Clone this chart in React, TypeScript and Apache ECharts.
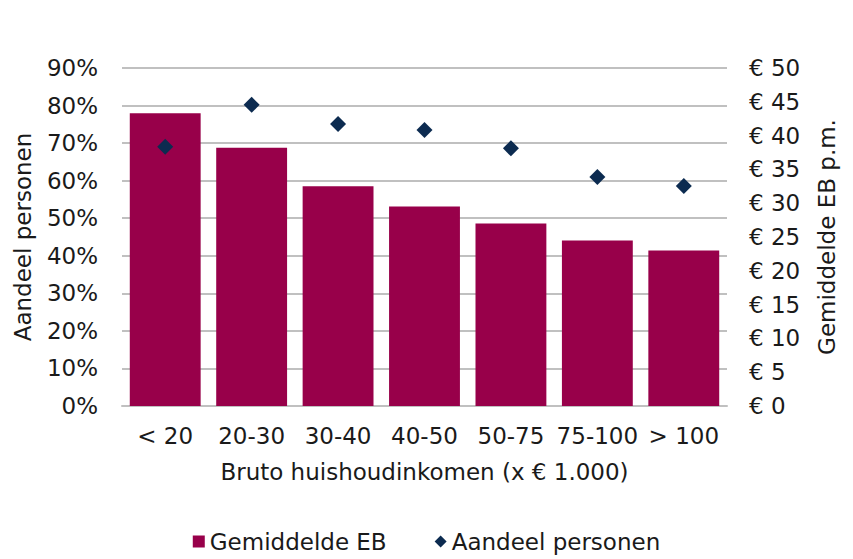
import React, { useEffect, useRef } from "react";
import * as echarts from "echarts";

const categories = ["< 20", "20-30", "30-40", "40-50", "50-75", "75-100", "> 100"];
const gemiddeldeEB = [43.3, 38.2, 32.5, 29.5, 27.0, 24.5, 23.0];
const aandeelPersonen = [0.69, 0.802, 0.751, 0.735, 0.686, 0.61, 0.586];

const FONT = "DejaVu Sans, Verdana, sans-serif";
const TEXT = "#1a1a1a";
const FS = 23;

export default function App() {
  const ref = useRef<HTMLDivElement>(null);
  useEffect(() => {
    if (!ref.current) return;
    document.body.style.margin = "0";
    const chart = echarts.init(ref.current, undefined, { renderer: "svg" });
    chart.setOption({
      animation: false,
      backgroundColor: "#ffffff",
      textStyle: { fontFamily: FONT, color: TEXT },
      title: {
        text: "Totaal",
        left: "center",
        top: 8,
        textStyle: { color: "#ffffff", fontFamily: FONT, fontSize: 22, fontWeight: "bold" },
      },
      grid: {
        left: 122,
        right: 126,
        top: 68,
        bottom: 153,
        containLabel: false,
        outerBoundsMode: "none",
      },
      legend: {
        top: 525,
        left: "center",
        itemGap: 48,
        itemWidth: 12,
        itemHeight: 12,
        textStyle: { fontFamily: FONT, fontSize: FS, color: TEXT },
        data: [
          { name: "Gemiddelde EB", icon: "rect" },
          { name: "Aandeel personen", icon: "diamond" },
        ],
      },
      xAxis: {
        type: "category",
        data: categories,
        name: "Bruto huishoudinkomen (x € 1.000)",
        nameLocation: "middle",
        nameGap: 54,
        nameTextStyle: { fontFamily: FONT, fontSize: FS, color: TEXT },
        axisLine: { lineStyle: { color: "#c0c0c0", width: 2 } },
        axisTick: { show: false },
        axisLabel: { fontFamily: FONT, fontSize: FS, color: TEXT, margin: 18, interval: 0 },
      },
      yAxis: [
        {
          type: "value",
          min: 0,
          max: 0.9,
          interval: 0.1,
          position: "left",
          name: "Aandeel personen",
          nameLocation: "middle",
          nameRotate: 90,
          nameGap: 88,
          nameTextStyle: { fontFamily: FONT, fontSize: FS, color: TEXT },
          axisLine: { show: false },
          axisTick: { show: false },
          axisLabel: {
            fontFamily: FONT,
            fontSize: FS,
            color: TEXT,
            margin: 24,
            formatter: (v: number) => Math.round(v * 100) + "%",
          },
          splitLine: { lineStyle: { color: "#c0c0c0", width: 2 } },
        },
        {
          type: "value",
          min: 0,
          max: 50,
          interval: 5,
          position: "right",
          name: "Gemiddelde EB p.m.",
          nameLocation: "middle",
          nameRotate: 90,
          nameGap: 88,
          nameTextStyle: { fontFamily: FONT, fontSize: FS, color: TEXT },
          axisLine: { show: false },
          axisTick: { show: false },
          axisLabel: {
            fontFamily: FONT,
            fontSize: FS,
            color: TEXT,
            margin: 22,
            formatter: (v: number) => "€ " + v,
          },
          splitLine: { show: false },
        },
      ],
      series: [
        {
          name: "Gemiddelde EB",
          type: "bar",
          yAxisIndex: 1,
          data: gemiddeldeEB,
          barCategoryGap: "18%",
          itemStyle: { color: "#98004A" },
        },
        {
          name: "Aandeel personen",
          type: "scatter",
          yAxisIndex: 0,
          data: aandeelPersonen,
          symbol: "diamond",
          symbolSize: 16,
          itemStyle: { color: "#0C2B50", opacity: 1 },
        },
      ],
    });
    return () => chart.dispose();
  }, []);
  return <div ref={ref} style={{ width: 853, height: 559 }} />;
}
